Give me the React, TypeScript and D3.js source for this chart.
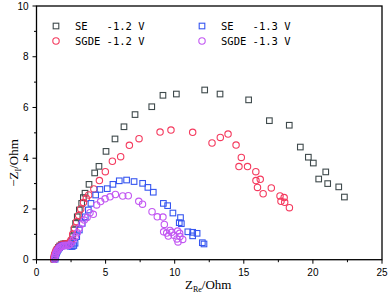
import React from "react";
import * as d3 from "d3";

const seriesNames = ["SE   -1.2 V", "SGDE -1.2 V", "SE   -1.3 V", "SGDE -1.3 V"];
const seriesColors = ["#3f4a4c", "#f43a5e", "#3656f0", "#c257f2"];
const seriesShapes = ["square", "circle", "square", "circle"];

const xTicks = [0, 5, 10, 15, 20, 25];
const yTicks = [0, 2, 4, 6, 8, 10];

const seGray: [number, number][] = [
  [1.25, 0.02], [1.28, 0.1], [1.32, 0.18], [1.37, 0.26], [1.43, 0.34], [1.5, 0.41], [1.58, 0.48],
  [1.68, 0.54], [1.8, 0.59], [1.93, 0.62], [2.07, 0.63], [2.2, 0.63], [2.33, 0.62], [2.45, 0.63],
  [2.55, 0.72], [2.62, 0.91], [2.71, 1.17], [2.83, 1.43], [2.95, 1.69], [3.1, 1.96], [3.27, 2.22],
  [3.39, 2.45], [3.51, 2.62], [3.8, 2.97], [4.21, 3.42], [4.52, 3.68], [5.03, 4.27], [5.68, 4.76],
  [6.33, 5.24], [7.13, 5.72], [8.34, 6.03], [9.15, 6.48], [10.12, 6.53], [12.17, 6.69], [13.28, 6.53],
  [15.35, 6.3], [16.85, 5.48], [18.29, 5.3], [19.09, 4.44], [19.67, 4.04], [20.03, 3.81], [20.93, 3.46],
  [20.42, 3.18], [21.07, 3.0], [21.87, 2.87], [22.28, 2.47],
];

const sgdeRed: [number, number][] = [
  [1.24, 0.02], [1.27, 0.11], [1.31, 0.2], [1.36, 0.28], [1.42, 0.36], [1.5, 0.43], [1.6, 0.5],
  [1.72, 0.56], [1.86, 0.6], [2.0, 0.62], [2.14, 0.62], [2.28, 0.62], [2.42, 0.7], [2.5, 0.78],
  [2.62, 1.0], [2.75, 1.25], [2.9, 1.5], [3.05, 1.75], [3.2, 2.0], [3.4, 2.25], [3.6, 2.42],
  [3.78, 2.55], [4.15, 2.79], [4.55, 3.12], [4.98, 3.47], [5.49, 3.88], [6.09, 4.06], [6.72, 4.51],
  [7.42, 4.77], [8.94, 5.03], [9.73, 5.11], [11.3, 5.02], [12.7, 4.6], [13.3, 4.82], [13.86, 4.95],
  [14.44, 4.52], [14.82, 4.03], [14.65, 3.67], [15.27, 3.67], [15.87, 3.47], [15.88, 3.12], [16.19, 3.17],
  [15.99, 2.85], [16.99, 2.83], [16.4, 2.6], [17.62, 2.51], [17.92, 2.45], [17.69, 2.3], [17.96, 2.26],
  [18.3, 2.05],
];

const seBlue: [number, number][] = [
  [1.35, 0.02], [1.37, 0.1], [1.4, 0.18], [1.45, 0.26], [1.51, 0.34], [1.58, 0.41], [1.67, 0.47],
  [1.77, 0.52], [1.89, 0.55], [2.02, 0.57], [2.16, 0.57], [2.3, 0.55], [2.44, 0.53], [2.58, 0.52],
  [2.7, 0.56], [2.79, 0.65], [2.91, 0.91], [3.1, 1.17], [3.31, 1.43], [3.53, 1.69], [3.75, 1.96],
  [3.94, 2.22], [4.28, 2.55], [4.59, 2.77], [5.12, 2.8], [5.53, 2.97], [5.99, 3.11], [6.52, 3.14],
  [7.06, 3.08], [7.68, 3.01], [8.06, 2.85], [8.45, 2.66], [9.18, 2.22], [9.49, 2.13], [9.87, 1.84],
  [10.42, 1.66], [10.33, 1.46], [10.48, 1.42], [10.95, 1.1], [11.3, 1.08], [11.3, 0.94], [11.62, 1.04],
  [12.0, 0.67], [12.12, 0.62],
];

const sgdePurple: [number, number][] = [
  [1.3, 0.02], [1.32, 0.09], [1.35, 0.16], [1.39, 0.23], [1.44, 0.3], [1.5, 0.36], [1.57, 0.41],
  [1.65, 0.46], [1.74, 0.5], [1.84, 0.53], [1.95, 0.55], [2.07, 0.56], [2.19, 0.56], [2.31, 0.56],
  [2.43, 0.6], [2.55, 0.69], [2.66, 0.78], [2.81, 0.91], [2.95, 1.06], [3.1, 1.24], [3.27, 1.41],
  [3.46, 1.56], [3.66, 1.66], [3.87, 1.85], [4.11, 1.79], [4.35, 2.16], [4.64, 2.29], [4.96, 2.4],
  [5.32, 2.48], [5.71, 2.57], [6.24, 2.51], [6.64, 2.52], [7.4, 2.3], [7.67, 2.19], [8.36, 1.89],
  [8.74, 1.69], [9.15, 1.68], [9.25, 1.39], [9.2, 1.1], [9.42, 1.05], [9.66, 1.15], [9.54, 0.93],
  [9.78, 1.08], [9.95, 0.96], [10.16, 0.82], [10.38, 0.91], [10.21, 1.13], [10.36, 1.04], [10.58, 0.8],
  [10.24, 0.7],
];

const allSeries = [seGray, sgdeRed, seBlue, sgdePurple];

const W = 390;
const H = 297;
const left = 36.5;
const right = 382;
const top = 6;
const bottom = 259.7;

export default function App() {
  const x = d3.scaleLinear().domain([0, 25]).range([left, right]);
  const y = d3.scaleLinear().domain([0, 10]).range([bottom, top]);
  const xMinor = d3.range(0, 25.01, 2.5).filter((v) => !xTicks.includes(v));
  const yMinor = d3.range(1, 10, 2);
  const tickFont = "'Liberation Sans', Arial, sans-serif";
  const sq = 5.6;
  const r = 3.2;

  const marker = (shape: string, color: string, cx: number, cy: number, key: string | number) =>
    shape === "square" ? (
      <rect key={key} x={cx - sq / 2} y={cy - sq / 2} width={sq} height={sq} fill="none" stroke={color} strokeWidth={1.1} />
    ) : (
      <circle key={key} cx={cx} cy={cy} r={r} fill="none" stroke={color} strokeWidth={1.1} />
    );

  return (
    <svg width={W} height={H} style={{ position: "absolute", left: 0, top: 0, background: "#fff" }}>
      <rect x={0} y={0} width={W} height={H} fill="#fff" />
      {/* data */}
      {allSeries.map((s, si) => (
        <g key={si}>
          {s.map((d, i) => marker(seriesShapes[si], seriesColors[si], x(d[0]), y(d[1]), i))}
        </g>
      ))}
      {/* frame */}
      <rect x={left} y={top} width={right - left} height={bottom - top} fill="none" stroke="#000" strokeWidth={1.3} />
      {/* x ticks */}
      {xTicks.map((t) => (
        <g key={"xt" + t}>
          <line x1={x(t)} x2={x(t)} y1={bottom} y2={bottom + 4} stroke="#000" strokeWidth={1} />
          <text x={x(t)} y={276} textAnchor="middle" fontSize={10} fontFamily={tickFont}>
            {t}
          </text>
        </g>
      ))}
      {xMinor.map((t) => (
        <line key={"xm" + t} x1={x(t)} x2={x(t)} y1={bottom} y2={bottom + 2.5} stroke="#000" strokeWidth={1} />
      ))}
      {/* y ticks */}
      {yTicks.map((t) => (
        <g key={"yt" + t}>
          <line x1={left - 4} x2={left} y1={y(t)} y2={y(t)} stroke="#000" strokeWidth={1} />
          <text x={28.5} y={y(t) + 3.6} textAnchor="end" fontSize={10} fontFamily={tickFont}>
            {t}
          </text>
        </g>
      ))}
      {yMinor.map((t) => (
        <line key={"ym" + t} x1={left - 2.5} x2={left} y1={y(t)} y2={y(t)} stroke="#000" strokeWidth={1} />
      ))}
      {/* axis labels */}
      <text x={185} y={289} fontSize={13} fontFamily="'Liberation Serif', 'Times New Roman', serif">
        <tspan>Z</tspan>
        <tspan fontSize={8} dy={3}>Re</tspan>
        <tspan dy={-3}>/Ohm</tspan>
      </text>
      <text
        transform="translate(18,163) rotate(-90)"
        textAnchor="middle"
        fontSize={13}
        fontFamily="'Liberation Serif', 'Times New Roman', serif"
      >
        <tspan>−Z</tspan>
        <tspan fontSize={8} dy={3}>I</tspan>
        <tspan dy={-3}>/Ohm</tspan>
      </text>
      {/* legend */}
      {seriesNames.map((name, i) => {
        const col = i >= 2 ? 1 : 0;
        const row = i % 2;
        const mx = col === 0 ? 56 : 202;
        const my = 26 + row * 15;
        return (
          <g key={"lg" + i}>
            {marker(seriesShapes[i], seriesColors[i], mx, my, "m" + i)}
            <text
              x={mx + 19}
              y={my + 4}
              fontSize={10.5}
              fontFamily="'DejaVu Sans Mono', monospace"
              xmlSpace="preserve"
              style={{ whiteSpace: "pre" }}
            >
              {name}
            </text>
          </g>
        );
      })}
    </svg>
  );
}
